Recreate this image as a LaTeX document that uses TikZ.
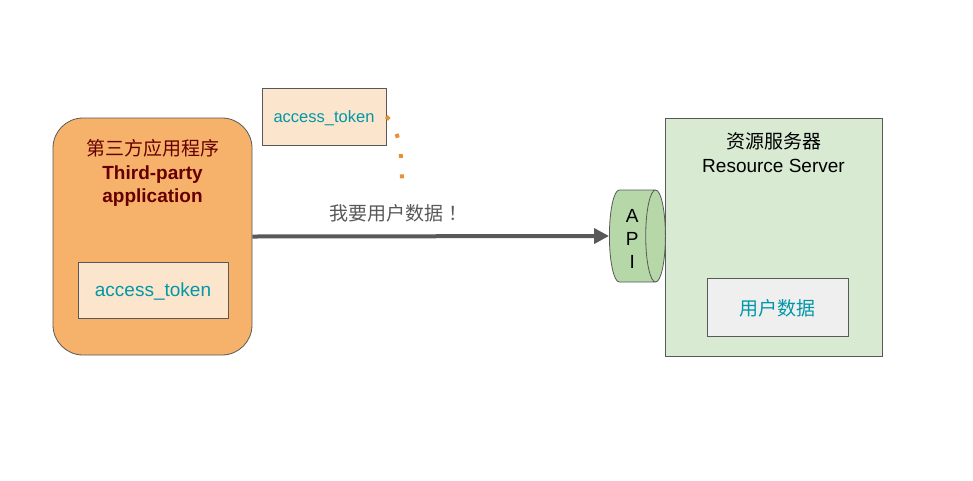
\documentclass[tikz,border=0pt]{standalone}
\usepackage{fontspec}
\setmainfont{Liberation Sans}
\newfontfamily\cjk{Noto Sans CJK SC}
\usetikzlibrary{shapes.geometric,arrows.meta}
\definecolor{apporange}{HTML}{F6B26B}
\definecolor{tokfill}{HTML}{FCE5CD}
\definecolor{srvgreen}{HTML}{D9EAD3}
\definecolor{apigreen}{HTML}{B6D7A8}
\definecolor{datagray}{HTML}{EFEFEF}
\definecolor{edgegray}{HTML}{595959}
\definecolor{dotorange}{HTML}{E69138}
\definecolor{darkred}{HTML}{660000}
\definecolor{tokteal}{HTML}{0097A7}
\begin{document}
\begin{tikzpicture}[x=1pt,y=-1pt,inner sep=0pt,
 box/.style={draw=edgegray,line width=0.8pt,minimum width=#1},
 bigtext/.style={font=\fontsize{19}{23.5}\selectfont,align=center},
 toktext/.style={text=tokteal,text depth=0pt,font=\fontsize{19}{23}\selectfont}]
\useasboundingbox[fill=white] (0,0) rectangle (973,480);
\node[box=199pt,minimum height=237pt,fill=apporange,rounded corners=30pt] (app) at (152.5,236.5) {};
\node[bigtext,text=darkred] (apptxt) at (152.5,173) {{\cjk 第三方应用程序}\\\bfseries Third-party\\\bfseries application};
\node[box=150pt,minimum height=56pt,fill=tokfill,toktext] (tok) at (153,290) {access\_token};
\node[box=124pt,minimum height=57pt,fill=tokfill,toktext,font=\fontsize{16.5}{20}\selectfont] (toktop) at (324,116.5) {access\_token};
\coordinate (dotend) at (402,180);
\draw[dotorange,line width=4pt,dash pattern=on 4pt off 16.5pt] (toktop.east) .. controls (396,124) and (402,145) .. (dotend);
\node[box=217pt,minimum height=238pt,fill=srvgreen] (srv) at (773.5,237) {};
\node[bigtext] (srvtxt) at (773.5,152.5) {{\cjk 资源服务器}\\Resource Server};
\node[box=141pt,minimum height=58pt,fill=datagray,toktext] (data) at (777.5,307) {\cjk 用户数据};
\node[draw=edgegray,line width=0.8pt,fill=apigreen,cylinder,aspect=0.3,minimum height=56pt,minimum width=92pt,bigtext,font=\fontsize{19}{23}\selectfont,anchor=west] (api) at (609,236) {\rule{0pt}{19.7pt}A\\P\\I};
\draw[edgegray,line width=4pt,-{Triangle[length=15pt,width=15pt]}] (app.east) -- node[pos=0.41,above=12pt,font=\fontsize{19}{22}\selectfont\cjk] (ask) {我要用户数据\hspace{5pt}！} (api.west);
\end{tikzpicture}
\end{document}
